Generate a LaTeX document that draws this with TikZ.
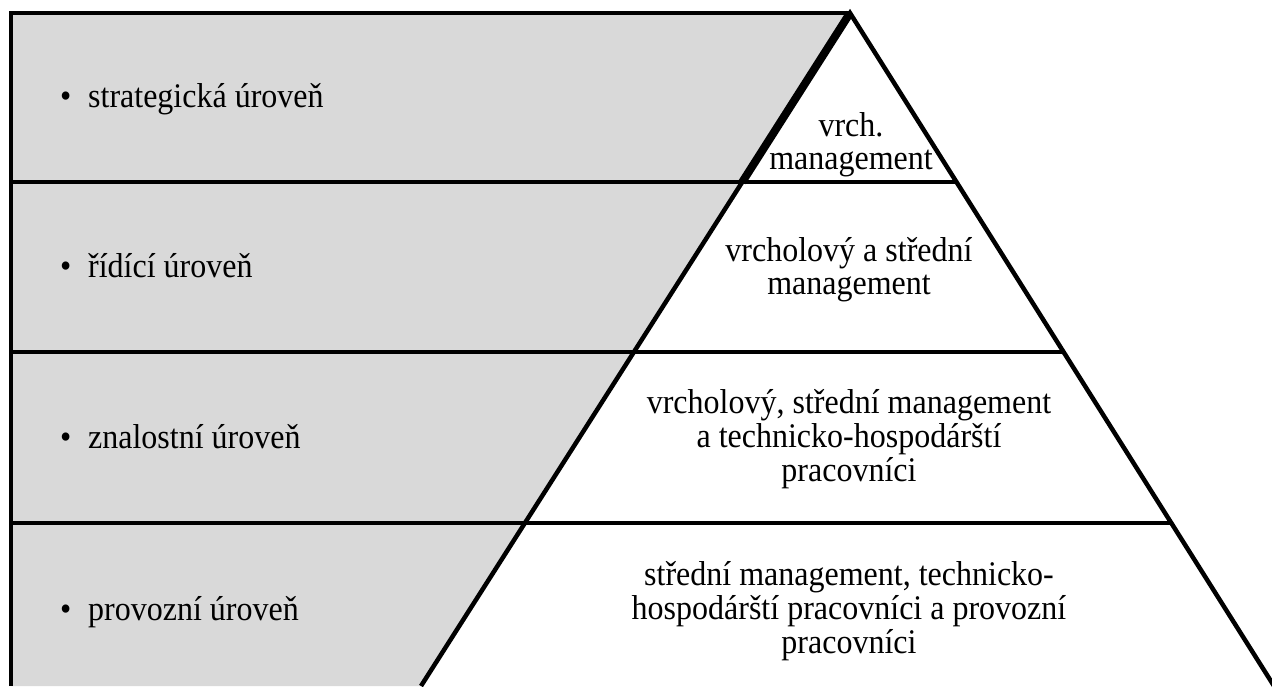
\documentclass[tikz,border=0pt]{standalone}
\usepackage{fontspec}
\usepackage{graphicx}
\setmainfont{Liberation Serif}
\usetikzlibrary{calc}

\definecolor{levelgray}{HTML}{D9D9D9}

% text set slightly taller than wide
\newcommand{\tallset}[1]{\scalebox{1}[1.08]{#1}}
% centred block whose baseline is that of its first line
\newcommand{\stacklines}[1]{\tallset{\begin{tabular}[t]{@{}c@{}}#1\end{tabular}}}

\tikzset{
  rule/.style={line width=4.5pt, line cap=butt, line join=miter},
  leveltext/.style={inner sep=0pt, anchor=base west,
    font=\fontsize{32}{30.9}\selectfont},
  grouptext/.style={inner sep=0pt, anchor=base,
    font=\fontsize{32}{30.9}\selectfont}
}

\begin{document}
\begin{tikzpicture}[x=1pt, y=-1pt]
  % canvas
  \fill[white] (0,0) rectangle (1272,686);
  \useasboundingbox (0,0) rectangle (1272,686);

  % key points of the frame and the pyramid
  \coordinate (tl) at (11,13);
  \coordinate (bot) at (11,686);
  \coordinate (apex) at (850,13);
  \coordinate (bl) at (421,686);
  \coordinate (br) at (1274,686);

  % where the level borders meet the pyramid sides
  \coordinate (l1) at ($(apex)!0.2511!(bl)$);
  \coordinate (r1) at ($(apex)!0.2511!(br)$);
  \coordinate (l2) at ($(apex)!0.5037!(bl)$);
  \coordinate (r2) at ($(apex)!0.5037!(br)$);
  \coordinate (l3) at ($(apex)!0.7578!(bl)$);
  \coordinate (r3) at ($(apex)!0.7578!(br)$);
  \coordinate (f1) at (tl |- l1);
  \coordinate (f2) at (tl |- l2);
  \coordinate (f3) at (tl |- l3);

  % grey band on the left
  \fill[levelgray] (tl) -- (apex) -- (bl) -- (bot) -- cycle;

  % frame and level borders
  \draw[rule] (bot) -- (tl) -- (apex);
  \draw[rule] (f1) -- (r1);
  \draw[rule] (f2) -- (r2);
  \draw[rule] (f3) -- (r3);

  % pyramid sides
  \draw[rule] (bl) -- (apex) -- (br);
  \draw[line width=8pt, line cap=butt] (apex) -- (l1);

  % level names
  \node[leveltext] (lv1) at (60,107) {\tallset{\makebox[28pt][l]{•}strategická úroveň}};
  \node[leveltext] (lv2) at (60,277) {\tallset{\makebox[28pt][l]{•}řídící úroveň}};
  \node[leveltext] (lv3) at (60,448) {\tallset{\makebox[28pt][l]{•}znalostní úroveň}};
  \node[leveltext] (lv4) at (60,620) {\tallset{\makebox[28pt][l]{•}provozní úroveň}};

  % who works at each level
  \node[grouptext] (g1) at (851,136) {\stacklines{vrch.\\management}};
  \node[grouptext] (g2) at (849,261) {\stacklines{vrcholový a střední\\management}};
  \node[grouptext] (g3) at (849,413) {\stacklines{vrcholový, střední management\\a technicko-hospodárští\\pracovníci}};
  \node[grouptext] (g4) at (849,585) {\stacklines{střední management, technicko-\\hospodárští pracovníci a provozní\\pracovníci}};
\end{tikzpicture}
\end{document}
